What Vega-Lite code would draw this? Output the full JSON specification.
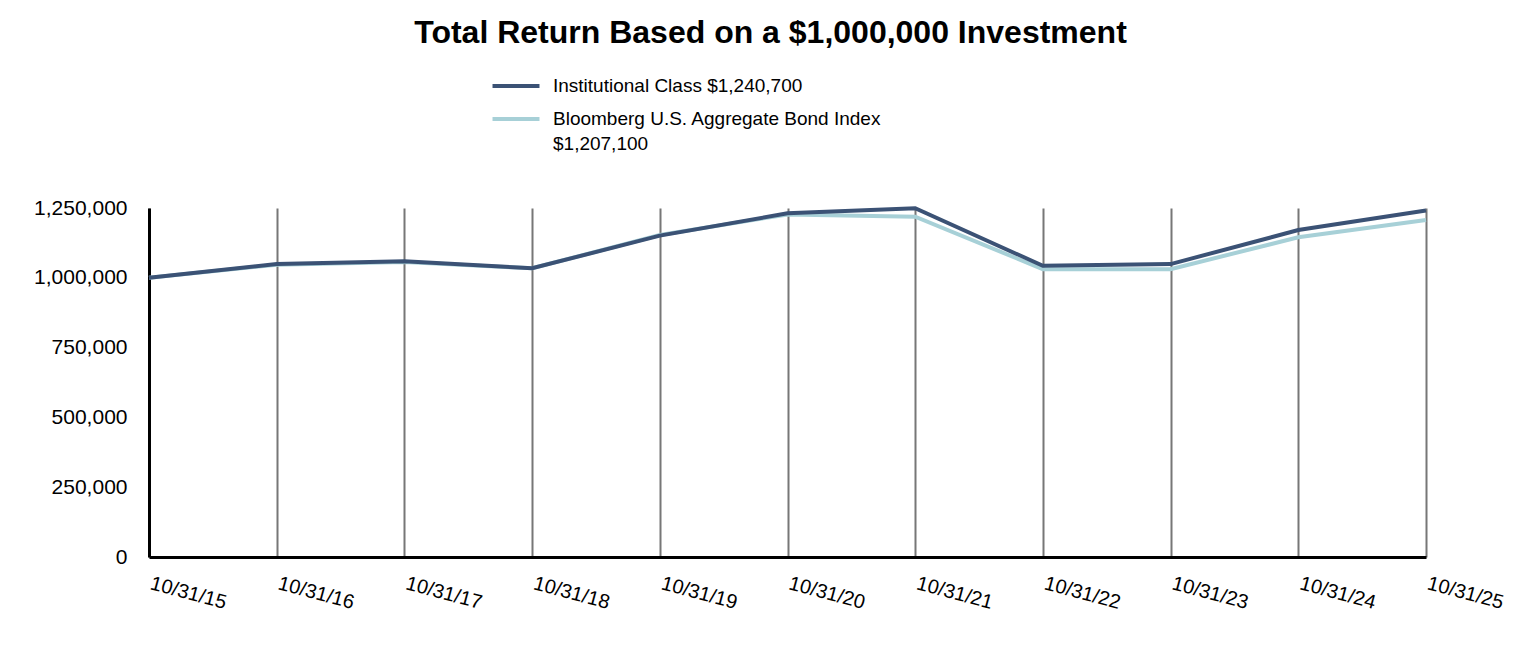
{
  "$schema": "https://vega.github.io/schema/vega-lite/v6.json",
  "width": 1277,
  "height": 349,
  "autosize": {"type": "none"},
  "padding": {"left": 149, "top": 208, "right": 107, "bottom": 88},
  "background": "white",
  "title": {
    "text": "Total Return Based on a $1,000,000 Investment",
    "font": "Liberation Sans",
    "fontSize": 32,
    "fontWeight": "bold",
    "color": "#000000",
    "anchor": "middle",
    "frame": "group",
    "dx": -17,
    "offset": 26
  },
  "data": {
    "values": [
      {"date": "10/31/15", "series": "Institutional Class $1,240,700", "value": 1000000},
      {"date": "10/31/16", "series": "Institutional Class $1,240,700", "value": 1049000},
      {"date": "10/31/17", "series": "Institutional Class $1,240,700", "value": 1059000},
      {"date": "10/31/18", "series": "Institutional Class $1,240,700", "value": 1034000},
      {"date": "10/31/19", "series": "Institutional Class $1,240,700", "value": 1151000},
      {"date": "10/31/20", "series": "Institutional Class $1,240,700", "value": 1231000},
      {"date": "10/31/21", "series": "Institutional Class $1,240,700", "value": 1249000},
      {"date": "10/31/22", "series": "Institutional Class $1,240,700", "value": 1043000},
      {"date": "10/31/23", "series": "Institutional Class $1,240,700", "value": 1049000},
      {"date": "10/31/24", "series": "Institutional Class $1,240,700", "value": 1171000},
      {"date": "10/31/25", "series": "Institutional Class $1,240,700", "value": 1240700},
      {"date": "10/31/15", "series": "Bloomberg U.S. Aggregate Bond Index $1,207,100", "value": 1000000},
      {"date": "10/31/16", "series": "Bloomberg U.S. Aggregate Bond Index $1,207,100", "value": 1047000},
      {"date": "10/31/17", "series": "Bloomberg U.S. Aggregate Bond Index $1,207,100", "value": 1057000},
      {"date": "10/31/18", "series": "Bloomberg U.S. Aggregate Bond Index $1,207,100", "value": 1034000},
      {"date": "10/31/19", "series": "Bloomberg U.S. Aggregate Bond Index $1,207,100", "value": 1153000},
      {"date": "10/31/20", "series": "Bloomberg U.S. Aggregate Bond Index $1,207,100", "value": 1227000},
      {"date": "10/31/21", "series": "Bloomberg U.S. Aggregate Bond Index $1,207,100", "value": 1219000},
      {"date": "10/31/22", "series": "Bloomberg U.S. Aggregate Bond Index $1,207,100", "value": 1031000},
      {"date": "10/31/23", "series": "Bloomberg U.S. Aggregate Bond Index $1,207,100", "value": 1031000},
      {"date": "10/31/24", "series": "Bloomberg U.S. Aggregate Bond Index $1,207,100", "value": 1145000},
      {"date": "10/31/25", "series": "Bloomberg U.S. Aggregate Bond Index $1,207,100", "value": 1207100}
    ]
  },
  "encoding": {
    "x": {
      "field": "date",
      "type": "ordinal",
      "sort": null,
      "scale": {"type": "point", "padding": 0},
      "axis": {
        "title": null,
        "grid": true,
        "gridColor": "#777777",
        "gridWidth": 2,
        "gridOpacity": 1,
        "domain": true,
        "domainColor": "#000000",
        "domainWidth": 3,
        "ticks": false,
        "labelAngle": 15,
        "labelAlign": "left",
        "labelBaseline": "top",
        "labelPadding": 16,
        "labelOffset": 4,
        "labelFont": "Liberation Sans",
        "labelFontSize": 20,
        "labelColor": "#000000",
        "labelOverlap": false
      }
    },
    "y": {
      "field": "value",
      "type": "quantitative",
      "scale": {"domain": [0, 1250000], "nice": false},
      "axis": {
        "title": null,
        "grid": false,
        "values": [0, 250000, 500000, 750000, 1000000, 1250000],
        "format": ",d",
        "domain": true,
        "domainColor": "#000000",
        "domainWidth": 3,
        "ticks": false,
        "labelPadding": 22,
        "labelFont": "Liberation Sans",
        "labelFontSize": 21,
        "labelColor": "#000000"
      }
    },
    "color": {
      "field": "series",
      "type": "nominal",
      "scale": {
        "domain": ["Institutional Class $1,240,700", "Bloomberg U.S. Aggregate Bond Index $1,207,100"],
        "range": ["#3b5275", "#a7d0d7"]
      },
      "legend": {
        "title": null,
        "orient": "none",
        "legendX": 357,
        "legendY": -132,
        "symbolType": "M-3,0H3",
        "symbolStrokeWidth": 4,
        "symbolSize": 245,
        "labelFont": "Liberation Sans",
        "labelFontSize": 19,
        "labelColor": "#000000",
        "labelOffset": 27,
        "labelLimit": 0,
        "rowPadding": 13,
        "labelBaseline": "top",
        "labelExpr": "datum.label == 'Bloomberg U.S. Aggregate Bond Index $1,207,100' ? ['Bloomberg U.S. Aggregate Bond Index', '$1,207,100'] : datum.label",
        "encode": {
          "labels": {"update": {"dy": {"value": -9}, "lineHeight": {"value": 25}}}
        }
      }
    }
  },
  "layer": [
    {
      "transform": [{"filter": "datum.series == 'Bloomberg U.S. Aggregate Bond Index $1,207,100'"}],
      "mark": {"type": "line", "strokeWidth": 4}
    },
    {
      "transform": [{"filter": "datum.series == 'Institutional Class $1,240,700'"}],
      "mark": {"type": "line", "strokeWidth": 4}
    }
  ],
  "config": {"view": {"stroke": null}}
}
